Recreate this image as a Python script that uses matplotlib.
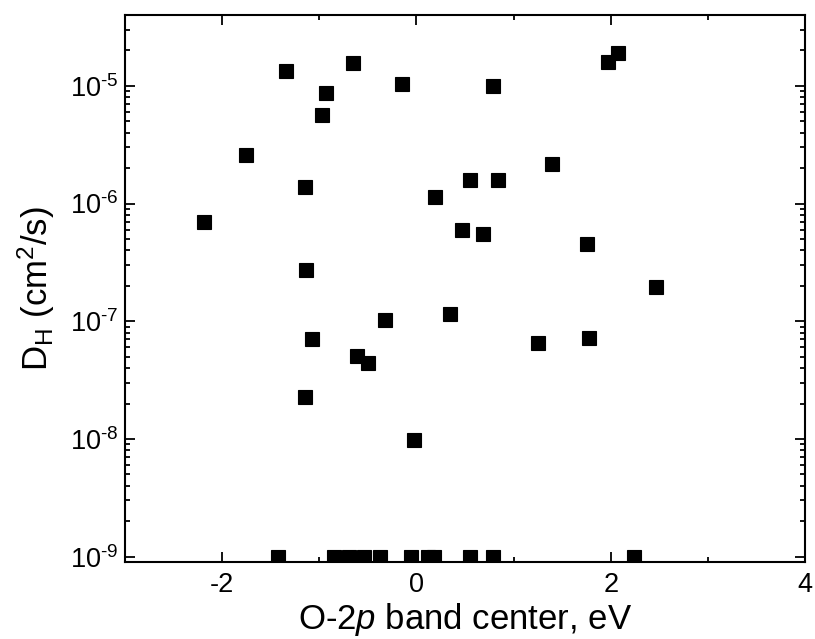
import matplotlib
matplotlib.use("Agg")
import matplotlib.pyplot as plt
import numpy as np
from matplotlib.ticker import MultipleLocator, LogLocator, NullFormatter, FuncFormatter

plt.rcParams['font.family'] = ['Liberation Sans', 'DejaVu Sans']
plt.rcParams['mathtext.fontset'] = 'custom'
plt.rcParams['mathtext.rm'] = 'Liberation Sans'
plt.rcParams['mathtext.it'] = 'Liberation Sans:italic'
plt.rcParams['mathtext.default'] = 'regular'
plt.rcParams['axes.unicode_minus'] = False

# O-2p band center (eV) and hydrogen diffusivity (cm^2/s)
band_center = [-1.34, -0.65, -0.93, -0.97, -0.15, 0.79, 1.97, 2.07,
               -1.75, -1.15, 0.55, 0.84, 1.40, 0.19, -2.19, 0.47,
               0.69, 1.76, 2.47, -1.14, -0.32, 0.35, -1.08, -0.61,
               -0.50, 1.25, 1.78, -1.15, -0.02]
diffusivity = [1.34e-5, 1.55e-5, 8.7e-6, 5.65e-6, 1.04e-5, 9.9e-6, 1.59e-5, 1.90e-5,
               2.57e-6, 1.39e-6, 1.58e-6, 1.58e-6, 2.16e-6, 1.13e-6, 6.98e-7, 5.93e-7,
               5.48e-7, 4.52e-7, 1.96e-7, 2.72e-7, 1.02e-7, 1.15e-7, 7.08e-8, 5.06e-8,
               4.43e-8, 6.56e-8, 7.23e-8, 2.26e-8, 9.75e-9]

# points sitting on the lower limit (1e-9)
floor_center = [-1.42, -0.85, -0.69, -0.54, -0.38, -0.06, 0.12, 0.18, 0.55, 0.79, 2.24]
floor_value = [1e-9] * len(floor_center)

x_ticks = [-2, 0, 2, 4]
y_ticks = [1e-9, 1e-8, 1e-7, 1e-6, 1e-5]

fig = plt.figure(figsize=(8.15, 6.39), dpi=100)
ax = fig.add_axes([0.1534, 0.1205, 0.8343, 0.856])

ax.plot(band_center + floor_center, diffusivity + floor_value, 's', color='black',
        markersize=10.5, markeredgewidth=0.8, linestyle='none')

ax.set_yscale('log')
ax.set_xlim(-3, 4)
ax.set_ylim(9e-10, 4e-5)


def dec_label(v, pos):
    e = int(round(np.log10(v)))
    if e < 0:
        return r'$10^{\text{-}%d}$' % (-e)
    return r'$10^{%d}$' % e


ax.set_xticks(x_ticks)
ax.set_xticklabels([str(t) for t in x_ticks])
ax.xaxis.set_minor_locator(MultipleLocator(1))
ax.set_yticks(y_ticks)
ax.yaxis.set_major_formatter(FuncFormatter(dec_label))
ax.yaxis.set_minor_locator(LogLocator(base=10, subs=range(2, 10), numticks=20))
ax.yaxis.set_minor_formatter(NullFormatter())

ax.tick_params(which='both', direction='in', top=True, right=True, width=1.3)
ax.tick_params(which='major', length=7.2, labelsize=19.5)
ax.tick_params(axis='x', which='major', pad=7)
ax.tick_params(axis='y', which='major', pad=5)
ax.tick_params(which='minor', length=3.8)
for s in ax.spines.values():
    s.set_linewidth(1.5)

ax.set_xlabel('O-2$\\mathit{p}$ band center, eV', fontsize=25, labelpad=2)
ax.set_ylabel('D$_\\mathregular{H}$ (cm$^\\mathregular{2}$/s)', fontsize=25, labelpad=9)

fig.savefig('out.png', dpi=100)
